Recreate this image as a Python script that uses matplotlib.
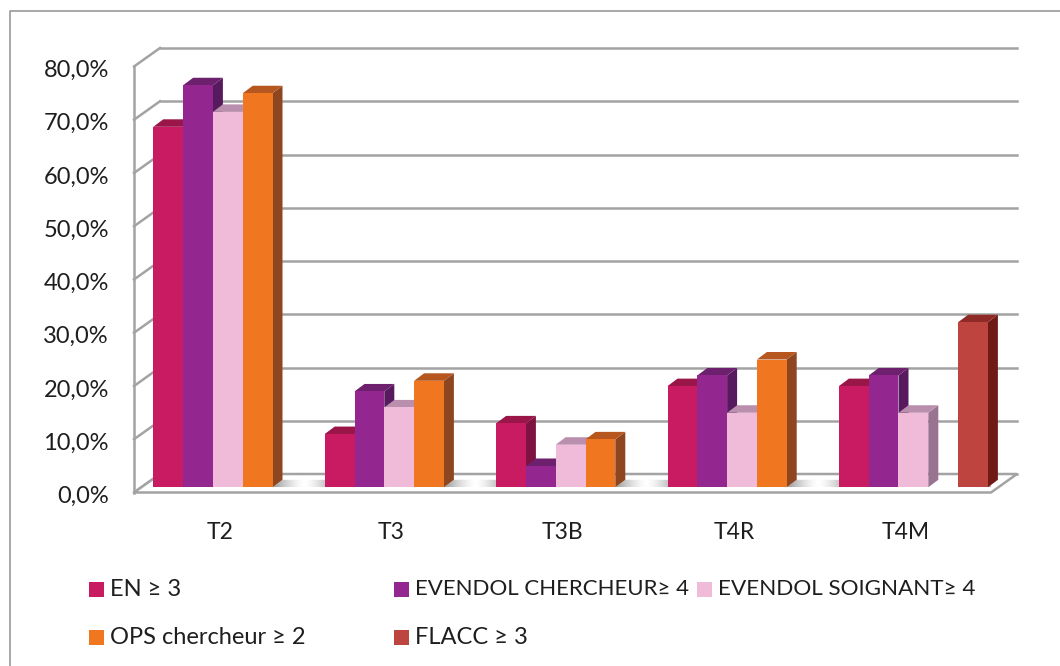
import matplotlib

matplotlib.use("Agg")
import matplotlib.pyplot as plt
import numpy as np
from matplotlib.patches import Polygon, Rectangle
from matplotlib.transforms import ScaledTranslation

plt.rcParams["font.family"] = ["Lato", "DejaVu Sans"]

categories = ["T2", "T3", "T3B", "T4R", "T4M"]
en = [67.7, 10, 12, 19, 19]
evendol_chercheur = [75.5, 18, 4, 21, 21]
evendol_soignant = [70.5, 15, 8, 14, 14]
ops_chercheur = [74, 20, 9, 24, np.nan]
flacc = [np.nan, np.nan, np.nan, np.nan, 31]
y_ticks = [0, 10, 20, 30, 40, 50, 60, 70, 80]
y_labels = ["0,0%", "10,0%", "20,0%", "30,0%", "40,0%", "50,0%", "60,0%", "70,0%", "80,0%"]
series_names = ["EN ≥ 3", "EVENDOL CHERCHEUR≥ 4", "EVENDOL SOIGNANT≥ 4", "OPS chercheur ≥ 2", "FLACC ≥ 3"]

# front, top, side
colors = [
    ("#C91B62", "#9A1548", "#7E1240"),
    ("#93268F", "#6C206E", "#581A5E"),
    ("#EFBBD9", "#B98FAD", "#9A7390"),
    ("#F07620", "#B5571F", "#8E4620"),
    ("#BE4440", "#8F2A27", "#701A16"),
]
series = [en, evendol_chercheur, evendol_soignant, ops_chercheur, flacc]

W, H = 1060, 666
PX_X = 1 / 171.4
PX_Y = 80 / 426
GRID = "#A3A3A3"
TEXT = "#1E1E1E"

fig = plt.figure(figsize=(W / 100, H / 100), dpi=100, facecolor="white")
ax = fig.add_axes([134 / W, (H - 492.5) / H, 857 / W, 426 / H])
for s in ax.spines.values():
    s.set_visible(False)

back_x = 26 * PX_X
back_y = 18.5 * PX_Y
lw = 1.8

# walls and gridlines
for t in y_ticks:
    ax.plot([back_x, 5 + back_x], [t + back_y, t + back_y], color=GRID, lw=lw, clip_on=False, zorder=1)
    ax.plot([0, back_x], [t, t + back_y], color=GRID, lw=lw, clip_on=False, zorder=1)
ax.plot([0, 0], [0, 80], color=GRID, lw=lw, clip_on=False, zorder=2)
floor = Polygon([(0, 0), (5, 0), (5 + back_x, back_y), (back_x, back_y)], closed=True,
                facecolor="white", edgecolor=GRID, lw=lw, clip_on=False, zorder=2)
ax.add_patch(floor)

bar_w = 29.8 * PX_X
base = 5.2 * PX_Y
dep_x = 10 * PX_X
dep_y = 7.5 * PX_Y
start = 19.3 * PX_X

# floor shadow between the groups, a grey gradient clipped to the floor strip
for i in range(len(categories)):
    vals = [s[i] for s in series]
    used = [j for j, v in enumerate(vals) if not np.isnan(v)]
    x_end = i + start + (used[-1] + 1) * bar_w
    x_next = i + 1 + start if i < 4 else 5 + 10 * PX_X
    ramp = np.abs(np.linspace(-1, 1, 80)) ** 1.5 * 0.8
    rgba = np.zeros((1, 80, 4))
    rgba[..., :3] = 0.5
    rgba[..., 3] = ramp
    im = ax.imshow(rgba, extent=(x_end, x_next + dep_x, base, base + dep_y), aspect="auto",
                   interpolation="bilinear", zorder=3)
    clip = Polygon([(x_end, base), (x_next, base), (x_next + dep_x, base + dep_y), (x_end + dep_x, base + dep_y)],
                   closed=True, transform=ax.transData)
    im.set_clip_path(clip)

# bars, left to right so the next front face covers the previous side
z = 4
for i in range(len(categories)):
    for j, values in enumerate(series):
        v = values[i]
        if np.isnan(v):
            continue
        front, top, side = colors[j]
        x0 = i + start + j * bar_w
        x1 = x0 + bar_w
        y1 = base + v
        ax.add_patch(Polygon([(x1, base), (x1 + dep_x, base + dep_y), (x1 + dep_x, y1 + dep_y), (x1, y1)],
                             closed=True, facecolor=side, edgecolor="none", clip_on=False, zorder=z))
        ax.add_patch(Polygon([(x0, y1), (x1, y1), (x1 + dep_x, y1 + dep_y), (x0 + dep_x, y1 + dep_y)],
                             closed=True, facecolor=top, edgecolor="none", clip_on=False, zorder=z))
        ax.bar(x0, v, width=bar_w, bottom=base, align="edge", color=front, clip_on=False, zorder=z + 1)
        z += 2

ax.set_xlim(0, 5)
ax.set_ylim(0, 80)
ax.set_xticks(np.arange(len(categories)) + 0.5)
ax.set_xticklabels(categories, fontsize=16.5, color=TEXT)
ax.set_yticks(y_ticks)
ax.set_yticklabels(y_labels, fontsize=17, color=TEXT)
ax.tick_params(axis="x", length=0, pad=21)
ax.tick_params(axis="y", length=0, pad=18)

# y labels sit about 2 px under their ticks in the reference
shift = ScaledTranslation(0, -2 / 100, fig.dpi_scale_trans)
for label in ax.get_yticklabels():
    label.set_transform(label.get_transform() + shift)

# outer frame
fig.add_artist(plt.Line2D([10 / W, 10 / W, 1], [0, 1 - 11 / H, 1 - 11 / H], color="#9A9A9A", lw=1.2))

# legend
legend_pos = [(89, 589), (394, 589), (697, 589), (89, 637), (394, 637)]
legend_sizes = [17, 16, 16.2, 17, 17]
for (px, py), name, c, size in zip(legend_pos, series_names, colors, legend_sizes):
    fig.add_artist(Rectangle((px / W, 1 - (py + 7.5) / H), 15 / W, 15 / H, facecolor=c[0], edgecolor="none",
                             transform=fig.transFigure))
    fig.text((px + 21) / W, 1 - py / H, name, fontsize=size, color=TEXT, va="center", ha="left")

fig.savefig("out.png", dpi=100)
